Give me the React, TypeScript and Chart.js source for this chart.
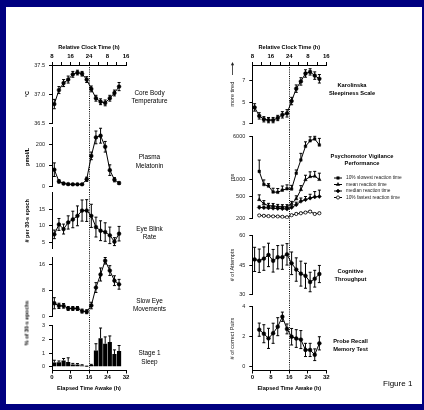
import React, { useEffect, useRef } from "react";
import { Chart, registerables } from "chart.js";
import { drawPoint } from "chart.js/helpers";
Chart.register(...registerables);

const FONT = '"Liberation Sans", Arial, Helvetica, sans-serif';

// ---------------- data ----------------
const hours = [1, 3, 5, 7, 9, 11, 13, 15, 17, 19, 21, 23, 25, 27, 29];
const hoursLate = [3, 5, 7, 9, 11, 13, 15, 17, 19, 21, 23, 25, 27, 29];
const elapsedTicks = [0, 8, 16, 24, 32];
const elapsedLabels = ["0", "8", "16", "24", "32"];
const clockTicks = [0, 4, 8, 12, 16, 20, 24, 28, 32];
const clockLabels = ["8", "", "16", "", "24", "", "8", "", "16"];

const coreTemp = [36.83, 37.07, 37.19, 37.25, 37.34, 37.37, 37.35, 37.25, 37.09, 36.93, 36.87, 36.85, 36.93, 37.02, 37.13];
const coreTempErr = [0.08, 0.06, 0.06, 0.06, 0.05, 0.04, 0.04, 0.05, 0.05, 0.05, 0.05, 0.05, 0.05, 0.05, 0.07];
const melatonin = [80, 25, 15, 12, 11, 11, 11, 35, 145, 232, 240, 188, 78, 33, 17];
const melatoninErr = [32, 8, 4, 3, 3, 3, 3, 10, 18, 30, 35, 25, 25, 10, 6];
const eyeBlink = [7.4, 10.4, 9.0, 11.0, 11.9, 13.0, 14.6, 14.6, 13.0, 9.6, 8.5, 8.1, 7.1, 5.2, 7.6];
const eyeBlinkErr = [1.3, 1.8, 1.5, 2.0, 2.5, 3.0, 3.2, 3.3, 3.5, 3.0, 3.0, 2.8, 2.5, 1.2, 2.2];
const slowEye = [4.0, 3.2, 3.2, 2.4, 2.4, 2.4, 1.6, 1.4, 3.3, 8.8, 12.8, 17.0, 14.0, 10.9, 9.8];
const slowEyeErr = [1.7, 0.8, 0.7, 0.6, 0.6, 0.6, 0.6, 0.6, 1.0, 1.5, 2.0, 1.0, 1.5, 1.5, 1.5];
const stage1 = [0.3, 0.32, 0.45, 0.35, 0.16, 0.16, 0.09, 0.02, 0.12, 1.18, 2.08, 1.68, 1.8, 0.93, 1.15];
const stage1Err = [0.17, 0.1, 0.15, 0.3, 0.08, 0.07, 0.05, 0.02, 0.05, 0.5, 0.75, 0.5, 0.45, 0.3, 0.4];

const kss = [4.5, 3.7, 3.38, 3.3, 3.3, 3.5, 3.8, 3.94, 5.1, 6.27, 6.95, 7.7, 7.85, 7.5, 7.2];
const kssErr = [0.35, 0.3, 0.25, 0.25, 0.25, 0.25, 0.3, 0.35, 0.35, 0.35, 0.35, 0.35, 0.3, 0.35, 0.4];
const pvtSlowest = [1400, 815, 765, 600, 592, 647, 684, 678, 1294, 2240, 3920, 4915, 5320, 4140];
const pvtSlowestErr = [830, 170, 80, 100, 100, 120, 120, 110, 190, 700, 800, 900, 600, 1300];
const pvtMean = [438, 371, 341, 339, 330, 326, 327, 368, 453, 660, 995, 1125, 1150, 1000];
const pvtMeanErr = [95, 50, 35, 35, 30, 30, 30, 40, 60, 120, 200, 250, 250, 300];
const pvtMedian = [317, 315, 312, 307, 305, 302, 297, 316, 354, 408, 438, 466, 490, 498];
const pvtMedianErr = [20, 20, 20, 20, 20, 20, 20, 25, 40, 60, 60, 80, 120, 150];
const pvtFastest = [229, 225, 222, 220, 219, 216, 212, 231, 243, 250, 258, 268, 243, 250];
const pvtFastestErr = [8, 8, 8, 8, 8, 8, 8, 8, 10, 10, 10, 12, 10, 10];
const pvtLegendLabels = ["10% slowest reaction time", "mean reaction time", "median reaction time", "10% fastest reaction time"];
const throughput = [47.9, 47.2, 48.3, 50.2, 47.2, 49.0, 49.0, 50.5, 45.9, 42.7, 40.6, 39.5, 36.3, 38.0, 40.4];
const throughputErr = [6.2, 6.0, 6.0, 6.0, 5.8, 6.0, 6.2, 5.5, 5.8, 6.0, 6.4, 6.4, 5.0, 4.3, 4.4];
const probe = [2.47, 2.2, 1.89, 2.23, 2.67, 3.33, 2.52, 2.0, 1.88, 1.81, 1.12, 1.12, 0.8, 1.56];
const probeErr = [0.44, 0.6, 0.67, 0.67, 0.6, 0.31, 0.33, 0.55, 0.59, 0.6, 0.44, 0.44, 0.39, 0.44];

const leftTitles = [["Core Body", "Temperature"], ["Plasma", "Melatonin"], ["Eye Blink", "Rate"], ["Slow Eye", "Movements"], ["Stage 1", "Sleep"]];
const rightTitles = [["Karolinska", "Sleepiness Scale"], ["Psychomotor Vigilance", "Performance"], ["Cognitive", "Throughput"], ["Probe Recall", "Memory Test"]];

// ---------------- helpers ----------------
function makeLine(xs: number[], ys: number[], errs: number[], extra: any = {}) {
  return {
    type: "line",
    data: xs.map((x, i) => ({ x, y: ys[i] })),
    errors: errs,
    borderColor: "#000",
    borderWidth: 1,
    pointRadius: 1.9,
    pointStyle: "circle",
    pointBackgroundColor: "#000",
    pointBorderColor: "#000",
    pointBorderWidth: 0.5,
    tension: 0,
    fill: false,
    ...extra,
  };
}

const errorBarPlugin = {
  id: "errorBars",
  beforeDatasetsDraw(chart: any) {
    const ctx = chart.ctx;
    chart.data.datasets.forEach((ds: any, i: number) => {
      if (!ds.errors) return;
      const meta = chart.getDatasetMeta(i);
      const ys = chart.scales[meta.yAxisID];
      ctx.save();
      ctx.strokeStyle = "#000";
      ctx.lineWidth = 1;
      meta.data.forEach((el: any, j: number) => {
        const v = ds.data[j].y;
        const e = ds.errors[j];
        if (e == null) return;
        const x = el.x;
        const top = ys.getPixelForValue(v + e);
        const bot = ds.errUp ? ys.getPixelForValue(v) : ys.getPixelForValue(v - e);
        const cw = 1.5;
        ctx.beginPath();
        ctx.moveTo(x, top);
        ctx.lineTo(x, bot);
        ctx.moveTo(x - cw, top);
        ctx.lineTo(x + cw, top);
        if (!ds.errUp) {
          ctx.moveTo(x - cw, bot);
          ctx.lineTo(x + cw, bot);
        }
        ctx.stroke();
      });
      ctx.restore();
    });
  },
};

function makeDotted(spec: any) {
  return {
    id: "dotted",
    afterDatasetsDraw(chart: any) {
      const ctx = chart.ctx;
      const x = Math.round(chart.scales.x.getPixelForValue(16)) + 0.5;
      ctx.save();
      ctx.setLineDash([1, 1.2]);
      ctx.strokeStyle = "#000";
      ctx.lineWidth = 1;
      ctx.beginPath();
      ctx.moveTo(x, spec.band[0] - spec.canvas.t);
      ctx.lineTo(x, spec.band[1] - spec.canvas.t);
      ctx.stroke();
      ctx.restore();
    },
  };
}

const R_LEFT = 214;
const kssArrow = {
  id: "kssArrow",
  afterDraw(chart: any) {
    const ctx = chart.ctx;
    const x = 232.5 - R_LEFT;
    const y0 = 75 - 38;
    const y1 = 62 - 38;
    ctx.save();
    ctx.strokeStyle = "#222";
    ctx.fillStyle = "#222";
    ctx.lineWidth = 0.8;
    ctx.beginPath();
    ctx.moveTo(x, y0);
    ctx.lineTo(x, y1 + 2.5);
    ctx.stroke();
    ctx.beginPath();
    ctx.moveTo(x, y1);
    ctx.lineTo(x - 1.6, y1 + 3.2);
    ctx.lineTo(x + 1.6, y1 + 3.2);
    ctx.closePath();
    ctx.fill();
    ctx.restore();
  },
};

const pvtLegend = {
  id: "pvtLegend",
  afterDraw(chart: any) {
    const ctx = chart.ctx;
    const oy = 123;
    const ys = [178, 184.5, 191, 197.5];
    pvtLegendLabels.forEach((label, i) => {
      const ds = chart.data.datasets[i];
      const y = ys[i] - oy;
      ctx.save();
      ctx.strokeStyle = "#000";
      ctx.lineWidth = 1;
      ctx.beginPath();
      ctx.moveTo(334 - R_LEFT, y);
      ctx.lineTo(342 - R_LEFT, y);
      ctx.stroke();
      ctx.fillStyle = ds.pointBackgroundColor;
      ctx.lineWidth = ds.pointBorderWidth;
      drawPoint(ctx, { pointStyle: ds.pointStyle, radius: ds.pointRadius, borderWidth: ds.pointBorderWidth, rotation: 0 } as any, 338 - R_LEFT, y);
      ctx.fillStyle = "#222";
      ctx.font = `4.8px ${FONT}`;
      ctx.textBaseline = "middle";
      ctx.textAlign = "left";
      ctx.fillText(label, 346 - R_LEFT, y);
      ctx.restore();
    });
  },
};

// ---------------- panels ----------------
const LC = { l: 8, r: 140 };
const LA = { l: 52, r: 126 };
const RC = { l: R_LEFT, r: 340 };
const RA = { l: 252.3, r: 326.3 };

const PANELS: any[] = [
  {
    canvas: { ...LC, t: 38, b: 131 }, area: { ...LA, t: 65, b: 123.3 }, band: [65, 125.2], topAxis: true,
    datasets: [makeLine(hours, coreTemp, coreTempErr)],
    yMin: 36.5, yMax: 37.5, yTicks: [36.5, 37, 37.5], yLabels: ["36.5", "37.0", "37.5"], yTitle: "°C", yTitleBold: true, yTitleX: 27,
  },
  {
    canvas: { ...LC, t: 119, b: 196 }, area: { ...LA, t: 127.2, b: 186.7 }, band: [125.2, 189.7],
    datasets: [makeLine(hours, melatonin, melatoninErr)],
    yMin: 0, yMax: 280, yTicks: [0, 100, 200], yLabels: ["0", "100", "200"], yTitle: "pmol/L", yTitleBold: true, yTitleX: 27,
  },
  {
    canvas: { ...LC, t: 183, b: 259 }, area: { ...LA, t: 192.7, b: 248.9 }, band: [189.7, 253.2],
    datasets: [makeLine(hours, eyeBlink, eyeBlinkErr)],
    yMin: 3, yMax: 20, yTicks: [5, 10, 15], yLabels: ["5", "10", "15"], yTitle: "# per 30-s epoch", yTitleBold: true, yTitleX: 27,
  },
  {
    canvas: { ...LC, t: 247, b: 327 }, area: { ...LA, t: 257.5, b: 316.3 }, band: [253.2, 321],
    datasets: [makeLine(hours, slowEye, slowEyeErr)],
    yMin: 0, yMax: 18, yTicks: [0, 8, 16], yLabels: ["0", "8", "16"],
  },
  {
    canvas: { ...LC, t: 315, b: 398 }, area: { ...LA, t: 325.7, b: 370.5 }, band: [321, 370.5], bottomAxis: true,
    datasets: [{
      type: "bar", data: hours.map((x, i) => ({ x, y: stage1[i] })), errors: stage1Err, errUp: true,
      backgroundColor: "#000", borderWidth: 0, barPercentage: 0.9, categoryPercentage: 1,
    }],
    yMin: -0.28, yMax: 3, yTicks: [0, 1, 2, 3], yLabels: ["0", "1", "2", "3"],
  },
  {
    canvas: { ...RC, t: 38, b: 136 }, area: { ...RA, t: 65, b: 123.3 }, band: [65, 129.6], topAxis: true,
    datasets: [makeLine(hours, kss, kssErr)],
    yMin: 3, yMax: 8.5, yTicks: [3, 5, 7], yLabels: ["3", "5", "7"], yTitle: "more tired", yTitleX: 232.5,
    extraPlugins: [kssArrow],
  },
  {
    canvas: { l: R_LEFT, r: 420, t: 123, b: 233 }, area: { ...RA, t: 136, b: 218.7 }, band: [129.6, 227.2],
    datasets: [
      makeLine(hoursLate, pvtSlowest, pvtSlowestErr, { errUp: true, pointStyle: "rect", pointRadius: 1.8 }),
      makeLine(hoursLate, pvtMean, pvtMeanErr, { errUp: true, pointStyle: "triangle", pointRadius: 2 }),
      makeLine(hoursLate, pvtMedian, pvtMedianErr, { errUp: true, pointStyle: "rectRot", pointRadius: 2 }),
      makeLine(hoursLate, pvtFastest, pvtFastestErr, { errUp: true, pointStyle: "circle", pointRadius: 1.6, pointBackgroundColor: "#fff", pointBorderWidth: 0.8 }),
    ],
    yType: "logarithmic", yMin: 200, yMax: 6000, yTicks: [200, 500, 1000, 6000], yLabels: ["200", "500", "1000", "6000"], yTitle: "ms", yTitleX: 232.5,
    extraPlugins: [pvtLegend],
  },
  {
    canvas: { ...RC, t: 221, b: 307 }, area: { ...RA, t: 235.8, b: 294.3 }, band: [227.2, 300.5],
    datasets: [makeLine(hours, throughput, throughputErr)],
    yMin: 30, yMax: 60, yTicks: [30, 45, 60], yLabels: ["30", "45", "60"], yTitle: "# of Attempts", yTitleX: 232.5,
  },
  {
    canvas: { ...RC, t: 294, b: 398 }, area: { ...RA, t: 306.7, b: 370.5 }, band: [300.5, 370.5], bottomAxis: true,
    datasets: [makeLine(hoursLate, probe, probeErr)],
    yMin: -0.25, yMax: 4, yTicks: [0, 2, 4], yLabels: ["0", "2", "4"], yTitle: "# of correct Pairs", yTitleX: 232.5,
  },
];

function buildConfig(spec: any): any {
  const c = spec.canvas, a = spec.area;
  const yW = a.l - c.l;
  const padR = c.r - a.r;
  const topH = a.t - c.t;
  const botH = c.b - a.b;
  const tickFont = { family: FONT, size: 5.5 };
  const axisBold = { family: FONT, size: 6, weight: "bold" };
  const titleBold = { family: FONT, size: 5.6, weight: "bold" };
  const yTitleFont = { family: FONT, size: 5.5, weight: spec.yTitleBold ? "bold" : "normal" };
  const yTitlePad = (spec.yTitleX ?? c.l + 12) - c.l - (yTitleFont.size * 1.2) / 2;
  const gridOpts = { display: true, offset: false, drawOnChartArea: false, drawTicks: true, tickLength: 3, color: "#000", lineWidth: 1 };
  const borderOpts = { display: true, color: "#000", width: 1 };
  return {
    type: "line",
    data: { datasets: spec.datasets },
    options: {
      animation: false,
      responsive: false,
      maintainAspectRatio: false,
      devicePixelRatio: 1,
      events: [],
      layout: {
        autoPadding: false,
        padding: { left: 0, right: padR, top: spec.topAxis ? 0 : topH, bottom: spec.bottomAxis ? 0 : botH },
      },
      plugins: { legend: { display: false }, tooltip: { enabled: false }, title: { display: false } },
      scales: {
        x: {
          type: "linear", position: "bottom", min: 0, max: 32, offset: false,
          display: !!spec.bottomAxis,
          afterBuildTicks: (s: any) => { s.ticks = elapsedTicks.map((v) => ({ value: v })); },
          afterFit: (s: any) => { if (spec.bottomAxis) s.height = botH; s.paddingLeft = 0; s.paddingRight = 0; },
          ticks: { autoSkip: false, maxRotation: 0, padding: 0.5, color: "#000", font: axisBold, callback: (_v: any, i: number) => elapsedLabels[i] },
          grid: gridOpts,
          border: borderOpts,
          title: { display: true, text: "Elapsed Time Awake (h)", color: "#000", font: titleBold, padding: { top: 0, bottom: 5.7 } },
        },
        xTop: {
          type: "linear", position: "top", min: 0, max: 32, offset: false,
          display: !!spec.topAxis,
          afterBuildTicks: (s: any) => { s.ticks = clockTicks.map((v) => ({ value: v })); },
          afterFit: (s: any) => { if (spec.topAxis) s.height = topH; s.paddingLeft = 0; s.paddingRight = 0; },
          ticks: { autoSkip: false, maxRotation: 0, padding: 2.4, color: "#000", font: axisBold, callback: (_v: any, i: number) => clockLabels[i] },
          grid: gridOpts,
          border: borderOpts,
          title: { display: true, text: "Relative Clock Time (h)", color: "#000", font: titleBold, padding: { top: 5.7, bottom: 0 } },
        },
        y: {
          type: spec.yType || "linear", position: "left", min: spec.yMin, max: spec.yMax,
          afterBuildTicks: (s: any) => { s.ticks = spec.yTicks.map((v: number) => ({ value: v })); },
          afterFit: (s: any) => { s.width = yW; s.paddingTop = 0; s.paddingBottom = 0; },
          ticks: { autoSkip: false, padding: 4, color: "#222", font: tickFont, callback: (_v: any, i: number) => spec.yLabels[i] },
          grid: gridOpts,
          border: borderOpts,
          title: { display: !!spec.yTitle, text: spec.yTitle || "", color: spec.yTitleBold ? "#000" : "#222", font: yTitleFont, padding: { top: yTitlePad, bottom: 0 } },
        },
      },
    },
    plugins: [errorBarPlugin, makeDotted(spec), ...(spec.extraPlugins || [])],
  };
}

function Panel({ spec }: { spec: any }) {
  const ref = useRef<HTMLCanvasElement>(null);
  const c = spec.canvas;
  const W = c.r - c.l;
  const H = c.b - c.t;
  useEffect(() => {
    const chart = new Chart(ref.current as HTMLCanvasElement, buildConfig(spec));
    return () => chart.destroy();
  }, [spec]);
  return <canvas ref={ref} width={W} height={H} style={{ position: "absolute", left: c.l, top: c.t, width: W, height: H }} />;
}

function Title({ lines, cx, cy, bold, size, lh }: { lines: string[]; cx: number; cy: number; bold?: boolean; size: number; lh: number }) {
  return (
    <div
      style={{
        position: "absolute", left: cx - 60, width: 120, top: cy - lh, textAlign: "center",
        fontFamily: FONT, fontSize: size, lineHeight: `${lh}px`, fontWeight: bold ? "bold" : "normal", color: "#000", whiteSpace: "pre",
      }}
    >
      {lines.join("\n")}
    </div>
  );
}

export default function App() {
  const leftCy = [97.3, 161.5, 233, 305, 357.5];
  const rightCx = [352, 362, 350.5, 350.5];
  const rightCy = [90, 160.5, 276, 346];
  return (
    <div style={{ position: "absolute", left: 0, top: 0, width: 424, height: 410, background: "#000080", overflow: "hidden" }}>
      <div style={{ position: "absolute", left: 6, top: 7, width: 416, height: 397, background: "#fff" }} />
      {PANELS.map((p, i) => (
        <Panel key={i} spec={p} />
      ))}
      {leftTitles.map((t, i) => (
        <Title key={"l" + i} lines={t} cx={149.5} cy={leftCy[i]} size={6.4} lh={8.2} />
      ))}
      {rightTitles.map((t, i) => (
        <Title key={"r" + i} lines={t} cx={rightCx[i]} cy={rightCy[i]} bold size={5.7} lh={7.6} />
      ))}
      <div
        style={{
          position: "absolute", left: 27, top: 323, transform: "translate(-50%,-50%) rotate(-90deg)",
          whiteSpace: "nowrap", fontFamily: FONT, fontSize: 5.5, fontWeight: "bold", lineHeight: "7px", color: "#000",
        }}
      >
        % of 30-s epochs
      </div>
      <div style={{ position: "absolute", left: 383, top: 379, fontFamily: FONT, fontSize: 8, lineHeight: "10px", color: "#000", whiteSpace: "nowrap" }}>
        Figure 1
      </div>
    </div>
  );
}
